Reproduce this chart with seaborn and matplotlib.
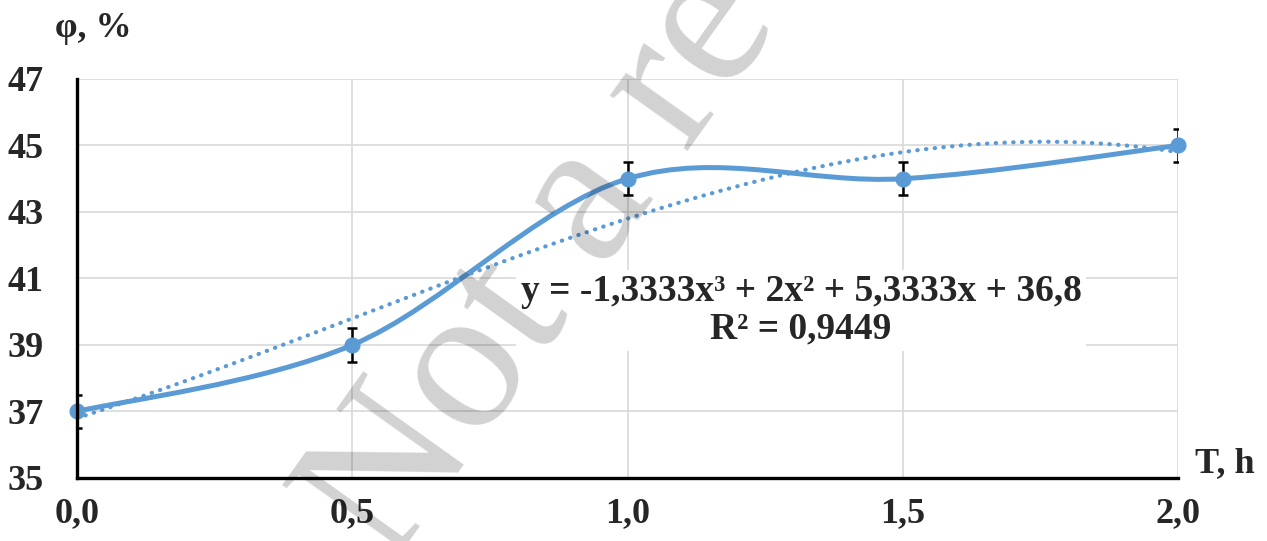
import numpy as np
import pandas as pd
import matplotlib
matplotlib.use('Agg')
import matplotlib.pyplot as plt
from matplotlib.path import Path
from matplotlib.patches import PathPatch
import seaborn as sns

# dados
tempo = [0.0, 0.5, 1.0, 1.5, 2.0]
phi = [37, 39, 44, 44, 45]
erro = [0.5, 0.5, 0.5, 0.5, 0.5]
x_ticks = [0.0, 0.5, 1.0, 1.5, 2.0]
x_labels = ['0,0', '0,5', '1,0', '1,5', '2,0']
y_ticks = [35, 37, 39, 41, 43, 45, 47]
equacao = 'y = -1,3333x³ + 2x² + 5,3333x + 36,8\nR² = 0,9449'

df = pd.DataFrame({'T': tempo, 'phi': phi})

sns.set_style('white')
plt.rcParams['font.family'] = ['Liberation Serif', 'DejaVu Serif']
plt.rcParams['font.weight'] = 'bold'

azul = '#5b9bd5'
fig = plt.figure(figsize=(12.67, 5.41), dpi=100)
ax = fig.add_axes([0.0608, 0.1165, 0.869, 0.7375])

# linha suavizada (tipo Excel) com curvas de Bezier
pts = np.column_stack([tempo, phi]).astype(float)
ext = np.vstack([pts[0], pts, pts[-1]])
verts = [tuple(pts[0])]
codes = [Path.MOVETO]
for i in range(1, len(ext) - 2):
    p0, p1, p2, p3 = ext[i - 1], ext[i], ext[i + 1], ext[i + 2]
    c1 = p1 + (p2 - p0) / 6
    c2 = p2 - (p3 - p1) / 6
    verts += [tuple(c1), tuple(c2), tuple(p2)]
    codes += [Path.CURVE4] * 3
ax.add_patch(PathPatch(Path(verts, codes), fill=False, edgecolor=azul,
                       lw=3.6, zorder=3, capstyle='round'))

# linha de tendência polinomial (ordem 3)
coef = np.polyfit(tempo, phi, 3)
xt = np.linspace(0, 2, 200)
sns.lineplot(x=xt, y=np.polyval(coef, xt), ax=ax, color=azul, lw=3,
             linestyle=(0, (0.1, 2.0)), dash_capstyle='round', zorder=2)

ax.errorbar(tempo, phi, yerr=erro, fmt='none', ecolor='black',
            elinewidth=1.8, capsize=3.8, capthick=1.8, zorder=4)
sns.scatterplot(data=df, x='T', y='phi', ax=ax, color=azul, s=115,
                edgecolor=azul, zorder=5, clip_on=False)

ax.set_xlim(0, 2)
ax.set_ylim(35, 47)
ax.set_xticks(x_ticks)
ax.set_xticklabels(x_labels)
ax.set_yticks(y_ticks)
ax.tick_params(axis='both', length=0, labelsize=26)
ax.tick_params(axis='y', pad=24)
ax.tick_params(axis='x', pad=14)
ax.set_xlabel('')
ax.set_ylabel('')
ax.grid(True, color='#d9d9d9', lw=1.2)
ax.set_axisbelow(True)
for s in ['top', 'right']:
    ax.spines[s].set_visible(False)
for s in ['left', 'bottom']:
    ax.spines[s].set_color('black')
    ax.spines[s].set_linewidth(2.4)
    ax.spines[s].set_zorder(6)

ax.text(1.315, 40.05, equacao, ha='center', va='center', fontsize=27,
        fontweight='bold', linespacing=1.1, zorder=3,
        bbox=dict(facecolor='white', edgecolor='none', pad=3))

fig.text(55 / 1267, 1 - 37 / 541, 'φ, %', fontsize=26, fontweight='bold',
         ha='left', va='baseline')
fig.text(1195 / 1267, 1 - 472 / 541, 'T, h', fontsize=26, fontweight='bold',
         ha='left', va='baseline')

# marca d'água
fig.text(390 / 1267, 1 - 568 / 541, 'Not a review copy', fontsize=150,
         fontweight='normal', color='black', alpha=0.18, rotation=54.5,
         rotation_mode='anchor', ha='left', va='baseline', zorder=10)

fig.savefig('out.png', dpi=100)
